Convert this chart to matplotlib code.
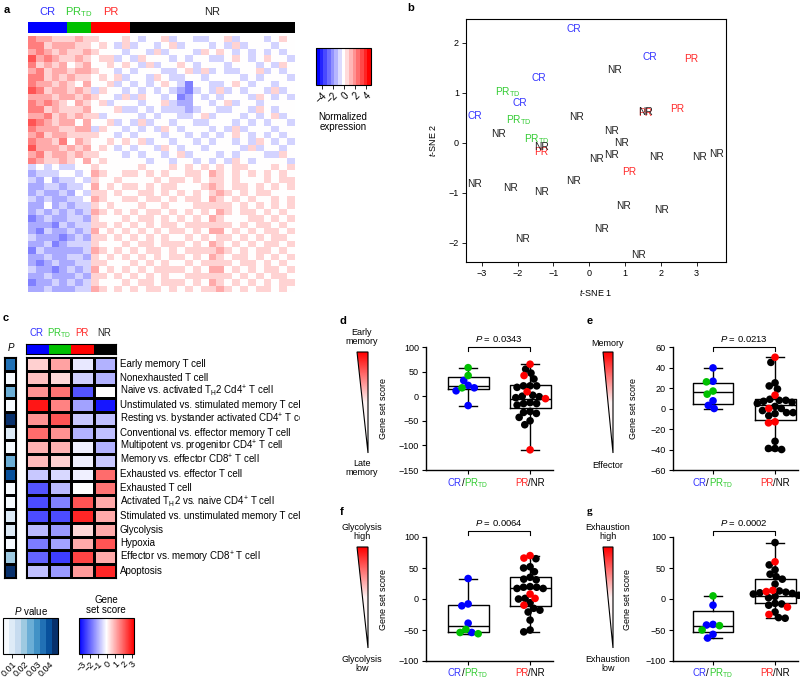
import numpy as np
import matplotlib
matplotlib.use("Agg")
import matplotlib.pyplot as plt
from matplotlib import colors as mcolors
from matplotlib.cm import ScalarMappable
from matplotlib.patches import Polygon
from matplotlib.transforms import Bbox, TransformedBbox

plt.rcParams["font.family"] = ["Liberation Sans", "DejaVu Sans"]
plt.rcParams["mathtext.fontset"] = "custom"
plt.rcParams["mathtext.rm"] = "Liberation Sans"
plt.rcParams["mathtext.it"] = "Liberation Sans:italic"
plt.rcParams["mathtext.bf"] = "Liberation Sans:bold"
plt.rcParams["font.size"] = 6.5
plt.rcParams["axes.linewidth"] = 0.8

W, H = 800, 681
BLUE, GREEN, RED = "#0000ff", "#00c000", "#ff0000"
T_BLUE, T_GREEN, T_RED = "#3333ff", "#33cc33", "#ff2a2a"

# ---------------- data ----------------
groups = ["CR", r"PR$_{\rm TD}$", "PR", "NR"]
group_n = [5, 3, 5, 21]
group_col = [BLUE, GREEN, RED, "black"]
label_col = [T_BLUE, T_GREEN, T_RED, "#222222"]

# panel a: normalized expression, code digit - 4 (rows = gene bands, cols = samples)
expr_rows = [
    "76655 565 54445 434453443344534443454",
    "77566 655 45435 344345344434353444344",
    "67656 556 54443 443534443545434343434",
    "86765 565 45534 354443434433454345443",
    "75656 456 44545 435344543444344434354",
    "67566 566 54434 344433453534334453434",
    "77565 655 45453 443543344344443434443",
    "76656 546 44534 343454314433454344344",
    "87566 565 35443 434343213435343443534",
    "66656 656 54435 354434124343444354343",
    "76765 465 45344 434453224434534434444",
    "77565 556 44453 343433323443344354344",
    "66756 565 53444 434344334534443434534",
    "87656 646 44534 353443443344434343443",
    "76665 566 35443 434354344434353444344",
    "67566 555 54434 344434434343454343434",
    "76657 465 44545 453443443434434354343",
    "86665 656 45434 344354344344443534434",
    "67566 565 54443 434434534443434443354",
    "76556 546 45444 443443443434354344443",
    "34343 344 54444 454445454545455444545",
    "23334 434 65445 545454455465454545454",
    "32423 343 54454 444545545455454445455",
    "22332 334 64545 545455444565455454545",
    "23223 243 55454 455454545456545455444",
    "32322 334 65445 545545455465454544545",
    "22423 233 54544 454454445555545454545",
    "23232 323 65454 545545454546545545454",
    "12322 332 54445 455454545465444554545",
    "22213 233 55454 545455455555545455454",
    "21322 323 64545 454545545466454545545",
    "32221 232 55454 545454454545545454554",
    "22312 333 54445 455455545465454545545",
    "13222 223 65454 545545455556545455454",
    "22322 332 54545 454545545465455454545",
    "21232 233 55444 545454454555545545454",
    "32212 323 64545 454555545466454545545",
    "22322 232 55454 545454455555545454554",
    "12232 323 54445 455455545465454545455",
    "22322 233 65454 545545454556545455454",
]

# panel b: t-SNE coordinates
tsne_cr_x = [-0.44, 1.68, -1.41, -1.93, -3.19]
tsne_cr_y = [2.28, 1.70, 1.29, 0.78, 0.53]
tsne_prtd_x = [-2.28, -1.96, -1.47]
tsne_prtd_y = [1.01, 0.45, 0.06]
tsne_pr_x = [2.86, 2.47, -1.33, 1.12, 1.55]
tsne_pr_y = [1.68, 0.68, -0.19, -0.59, 0.59]
tsne_nr_x = [0.72, -0.35, 1.56, -2.53, -1.33, 0.63, 0.91, 0.63, 0.21, 1.88, 3.07,
             3.56, -0.44, -3.19, -2.21, -1.33, 0.97, 2.02, 0.35, -1.87, 1.38]
tsne_nr_y = [1.45, 0.51, 0.61, 0.17, -0.09, 0.22, -0.01, -0.25, -0.33, -0.29, -0.29,
             -0.23, -0.77, -0.83, -0.91, -0.99, -1.27, -1.35, -1.73, -1.94, -2.24]

# panel c: gene set scores (CR, PR_TD, PR, NR) and P values
gene_sets = [
    "Early memory T cell",
    "Nonexhausted T cell",
    r"Naive vs. activated T$_{\rm H}$2 Cd4$^{+}$ T cell",
    "Unstimulated vs. stimulated memory T cell",
    r"Resting vs. bystander activated CD4$^{+}$ T cell",
    "Conventional vs. effector memory T cell",
    r"Multipotent vs. progenitor CD4$^{+}$ T cell",
    r"Memory vs. effector CD8$^{+}$ T cell",
    "Exhausted vs. effector T cell",
    "Exhausted T cell",
    r"Activated T$_{\rm H}$2 vs. naive CD4$^{+}$ T cell",
    "Stimulated vs. unstimulated memory T cell",
    "Glycolysis",
    "Hypoxia",
    r"Effector vs. memory CD8$^{+}$ T cell",
    "Apoptosis",
]
score_cr = [0.6, 0.8, 1.4, 3.0, 1.4, 1.9, 1.0, 0.9, -0.7, -2.2, -2.3, -2.3, -0.9, -1.7, -2.0, -0.8]
score_prtd = [1.2, 0.5, 1.8, 1.6, 2.2, 1.4, 1.0, 0.6, -0.5, -0.9, -1.6, -2.3, -1.3, -1.2, -2.5, -1.3]
score_pr = [-0.3, -0.6, -2.2, -1.2, -0.7, -1.0, -0.2, -0.2, -0.2, 0.0, 2.2, 2.8, 0.5, 1.1, 2.4, 1.3]
score_nr = [-1.0, -1.0, 0.0, -3.0, -0.8, -0.8, -1.0, -0.7, 1.9, 1.8, 1.1, 1.1, 1.1, 2.2, 1.1, 2.8]
p_values = [0.033, 0.004, 0.025, 0.003, 0.047, 0.012, 0.003, 0.025,
            0.042, 0.003, 0.004, 0.008, 0.008, 0.004, 0.02, 0.047]

# panels d-g: gene set scores per patient; box = (whislo, q1, med, q3, whishi)
d_cr = [32, 22, 17, 11, -19]
d_prtd = [58, 42, 17]
d_pr = [65, 42, 9, -5, -109]
d_nr = [55, 47, 35, 21, 21, 21, 18, 2, 0, -1, -3, -13, -15, -15, -18, -31, -33, -35, -43, -50, -58]
d_box = [(-19, 14, 20, 39, 58), (-109, -23, -5, 22, 65)]

e_cr = [39.6, 26.6, 7.5, 0, 3]
e_prtd = [26, 17, 14]
e_pr = [50, 13, 0, -13, -14]
e_nr = [45, 25, 22, 19, 9, 8, 8, 7, 6, 5, 2, 0, -2, -4, -4, -5, -7, -32, -39, -40, -39]
e_box = [(0, 4.5, 16, 25, 39.6), (-40, -11, 3, 9, 50)]

f_cr = [33, -11, -8, -39, -54]
f_prtd = [-56, -54, -49]
f_pr = [70, 66, 8, 1, -10]
f_nr = [65, 52, 50, 44, 35, 32, 31, 20, 19, 19, 17, 17, 1, 0, -6, -15, -18, -21, -34, -50, -53]
f_box = [(-56, -53, -43, -10, 33), (-53, -11, 17, 36, 70)]

g_cr = [-10, -42, -41, -57, -63]
g_prtd = [5, -43, -50]
g_pr = [60, 14, 12, -13, -25]
g_nr = [91, 55, 47, 40, 36, 32, 24, 13, 10, 8, 6, 4, 2, 9, 11, -7, -8, -10, -21, -30, -31]
g_box = [(-63, -54, -44, -19, 5), (-31, -6, 5, 32, 91)]

# ---------------- helpers ----------------
fig = plt.figure(figsize=(W / 100, H / 100), dpi=100)


def pax(x0, y0, x1, y1, **kw):
    return fig.add_axes([x0 / W, 1 - y1 / H, (x1 - x0) / W, (y1 - y0) / H], **kw)


def ftext(x, y, s, **kw):
    return fig.text(x / W, 1 - y / H, s, **kw)


def seg_text(x, y, parts, size):
    r = fig.canvas.get_renderer()
    items = []
    for s, c in parts:
        t = ftext(0, 0, s, color=c, fontsize=size, va="baseline", ha="left")
        items.append((t, t.get_window_extent(r).width))
    cx = x - sum(w for _, w in items) / 2
    for t, w in items:
        t.set_position((cx / W, 1 - y / H))
        cx += w


def swarm(vals, ppu, d=6.6):
    ys = np.asarray(vals, float) * ppu
    xs = np.zeros(len(ys))
    done = []
    for i in np.argsort(-ys):
        y = ys[i]
        cands = [0.0]
        blocks = []
        for j in done:
            dy = abs(ys[j] - y)
            if dy < d:
                w = np.sqrt(d * d - dy * dy)
                blocks.append((xs[j] - w, xs[j] + w))
                cands += [xs[j] - w, xs[j] + w]
        cands.sort(key=lambda c: (abs(c), c))
        for c in cands:
            if all(not (lo + 1e-6 < c < hi - 1e-6) for lo, hi in blocks):
                xs[i] = c
                break
        done.append(i)
    return xs


# overlay for gradient triangles
ax0 = fig.add_axes([0, 0, 1, 1], zorder=-1)
ax0.axis("off")
grad_cmap = mcolors.LinearSegmentedColormap.from_list("wr", ["white", "#fff4f4", "#ff0000"])


def triangle(x0, x1, ytop, ybot):
    im = ax0.imshow(np.linspace(1, 0, 200)[:, None], cmap=grad_cmap, aspect="auto",
                    extent=(x0, x1, ybot, ytop), origin="upper", vmin=0, vmax=1)
    poly = Polygon([(x0, ytop), (x1, ytop), (x1, ybot)], closed=True,
                   facecolor="none", edgecolor="black", lw=0.8)
    ax0.add_patch(poly)
    im.set_clip_path(poly)


# ---------------- panel a ----------------
ftext(4, 10, "a", fontsize=8, fontweight="bold", va="center")
codes = [r.replace(" ", "").ljust(34, "4")[:34] for r in expr_rows]
expr = np.array([[int(ch) - 4 for ch in r] for r in codes], float)
ncol = sum(group_n)
axh = pax(28, 22, 295, 33)
gidx = np.repeat(np.arange(4), group_n)[None, :]
axh.imshow(gidx, cmap=mcolors.ListedColormap(group_col), aspect="auto", interpolation="nearest")
axh.axis("off")
starts = np.cumsum([0] + group_n[:-1])
for g, s, n, c in zip(groups, starts, group_n, label_col):
    ftext(28 + (s + n / 2) * 267 / ncol, 12, g, color=c, fontsize=8, ha="center", va="center")

axa = pax(28, 36, 295, 292)
axa.imshow(expr, cmap="bwr", vmin=-6, vmax=6, aspect="auto", interpolation="nearest")
axa.axis("off")

cax = pax(316, 48, 371, 85)
cb = fig.colorbar(ScalarMappable(mcolors.Normalize(-5, 5), plt.get_cmap("bwr").resampled(15)),
                  cax=cax, orientation="horizontal")
cb.set_ticks([-4, -2, 0, 2, 4])
cb.outline.set_linewidth(0.8)
cax.tick_params(labelsize=7, length=3, width=0.6, pad=1)
for t in cax.get_xticklabels():
    t.set_rotation(45)
    t.set_ha("right")
    t.set_rotation_mode("anchor")
ftext(343, 122, "Normalized\nexpression", fontsize=7, ha="center", va="center", linespacing=1.1)

# ---------------- panel b ----------------
ftext(407, 8, "b", fontsize=8, fontweight="bold", va="center")
axb = pax(466, 19, 726, 262)
for xs, ys, lab, c in [(tsne_cr_x, tsne_cr_y, "CR", T_BLUE),
                       (tsne_prtd_x, tsne_prtd_y, r"PR$_{\rm TD}$", T_GREEN),
                       (tsne_pr_x, tsne_pr_y, "PR", T_RED),
                       (tsne_nr_x, tsne_nr_y, "NR", "#222222")]:
    for x, y in zip(xs, ys):
        axb.text(x, y, lab, color=c, fontsize=7.3, ha="center", va="center")
axb.set_xlim(-3.44, 3.82)
axb.set_ylim(-2.39, 2.47)
axb.set_xticks([-3, -2, -1, 0, 1, 2, 3])
axb.set_yticks([-2, -1, 0, 1, 2])
axb.tick_params(labelsize=6.5, length=3, width=0.6, pad=2)
ftext(596, 293, r"$\it{t}$-SNE 1", fontsize=6.5, ha="center", va="center")
ftext(432, 140, r"$\it{t}$-SNE 2", fontsize=6.5, ha="center", va="center", rotation=90)

# ---------------- panel c ----------------
ftext(3, 318, "c", fontsize=8, fontweight="bold", va="center")
for i, (g, c) in enumerate(zip(groups, label_col)):
    ftext(37 + i * 22.5, 333, g, color=c, fontsize=7, ha="center", va="center")
ftext(11, 348, "P", fontsize=7, style="italic", ha="center", va="center")
axch = pax(26, 344, 116, 354)
axch.imshow(np.arange(4)[None, :], cmap=mcolors.ListedColormap(group_col), aspect="auto")
axch.set_xticks([])
axch.set_yticks([])

scores = np.array([score_cr, score_prtd, score_pr, score_nr]).T
axc = pax(26, 357, 116, 578)
axc.pcolormesh(scores, cmap="bwr", vmin=-3.3, vmax=3.3, edgecolors="black", linewidth=0.8)
axc.set_ylim(len(gene_sets), 0)
axc.set_xticks([])
axc.set_yticks([])
p_cmap = plt.get_cmap("Blues").resampled(9)
axp = pax(4, 357, 16, 578)
axp.pcolormesh(np.array(p_values)[:, None], cmap=p_cmap, vmin=0.003, vmax=0.047,
               edgecolors="black", linewidth=0.8)
axp.set_ylim(len(p_values), 0)
axp.set_xticks([])
axp.set_yticks([])

clip = TransformedBbox(Bbox([[0, 0], [300 / W, 1]]), fig.transFigure)
row_h = (578 - 357) / len(gene_sets)
for i, name in enumerate(gene_sets):
    t = ftext(120, 357 + (i + 0.5) * row_h, name, fontsize=7, ha="left", va="center")
    t.set_clip_box(clip)
    t.set_clip_on(True)

ftext(31, 611, r"$\it{P}$ value", fontsize=7, ha="center", va="center")
cpx = pax(3, 618, 58, 654)
cbp = fig.colorbar(ScalarMappable(mcolors.Normalize(0.003, 0.047), p_cmap), cax=cpx,
                   orientation="horizontal")
cbp.set_ticks([0.01, 0.02, 0.03, 0.04])
cbp.set_ticklabels(["0.01", "0.02", "0.03", "0.04"])
ftext(106, 605, "Gene\nset score", fontsize=7, ha="center", va="center", linespacing=1.1)
cgx = pax(79, 618, 134, 654)
cbg = fig.colorbar(ScalarMappable(mcolors.Normalize(-3.3, 3.3), plt.get_cmap("bwr")), cax=cgx,
                   orientation="horizontal")
cbg.set_ticks([-3, -2, -1, 0, 1, 2, 3])
for cbx in (cbp, cbg):
    cbx.outline.set_linewidth(0.8)
    cbx.ax.tick_params(labelsize=6.5, length=3, width=0.6, pad=1)
    for t in cbx.ax.get_xticklabels():
        t.set_rotation(45)
        t.set_ha("right")
        t.set_rotation_mode("anchor")

# ---------------- panels d-g ----------------
panels = [
    ("d", (426, 347, 553, 470), (-0.68, 1.37), (-150, 100), [-150, -100, -50, 0, 50, 100],
     d_cr, d_prtd, d_pr, d_nr, d_box, "0.0343", 0, (357, 368, 352, 453),
     ("Early\nmemory", 337), ("Late\nmemory", 468), 362, 383, 486),
    ("e", (673, 347, 798, 470), (-0.645, 1.37), (-60, 60), [-60, -40, -20, 0, 20, 40, 60],
     e_cr, e_prtd, e_pr, e_nr, e_box, "0.0213", 0, (603, 613, 352, 453),
     ("Memory", 343), ("Effector", 465), 608, 633, 486),
    ("f", (426, 537, 553, 661), (-0.68, 1.37), (-100, 100), [-100, -50, 0, 50, 100],
     f_cr, f_prtd, f_pr, f_nr, f_box, "0.0064", 6, (357, 368, 547, 648),
     ("Glycolysis\nhigh", 532), ("Glycolysis\nlow", 664), 362, 383, 676),
    ("g", (673, 537, 798, 661), (-0.645, 1.37), (-100, 100), [-100, -50, 0, 50, 100],
     g_cr, g_prtd, g_pr, g_nr, g_box, "0.0002", 6, (603, 613, 547, 648),
     ("Exhaustion\nhigh", 532), ("Exhaustion\nlow", 664), 608, 628, 676),
]

for (letter, rect, xlim, ylim, yticks, cr, prtd, pr, nr, box, pval, bdy, tri,
     top_txt, bot_txt, tri_tx, ylab_x, xlab_y) in panels:
    x0, y0, x1, y1 = rect
    ax = pax(x0, y0, x1, y1)
    ppu = (y1 - y0) / (ylim[1] - ylim[0])
    pxu = (x1 - x0) / (xlim[1] - xlim[0])
    stats = [dict(whislo=b[0], q1=b[1], med=b[2], q3=b[3], whishi=b[4], fliers=[]) for b in box]
    lp = dict(color="black", lw=1.0)
    ax.bxp(stats, positions=[0, 1], widths=0.66, capwidths=0.3, showfliers=False,
           boxprops=lp, whiskerprops=lp, capprops=lp, medianprops=lp)
    for pos, sets in [(0, [(cr, BLUE), (prtd, GREEN)]), (1, [(nr, "black"), (pr, RED)])]:
        vals = np.concatenate([np.asarray(v, float) for v, _ in sets])
        cols = sum([[c] * len(v) for v, c in sets], [])
        offs = swarm(vals, ppu) / pxu
        ax.scatter(pos + offs, vals, c=cols, s=30, linewidths=0, zorder=3, clip_on=False)
    ax.set_xlim(*xlim)
    ax.set_ylim(*ylim)
    ax.set_yticks(yticks)
    ax.set_xticks([0, 1])
    ax.set_xticklabels(["", ""])
    for s in ("top", "right"):
        ax.spines[s].set_visible(False)
    ax.spines["left"].set_linewidth(1.0)
    ax.spines["bottom"].set_linewidth(1.0)
    ax.tick_params(labelsize=6.5, length=3, width=0.8, pad=2)

    yb = ylim[1] + bdy / ppu
    ax.plot([0, 0, 1, 1], [yb - 3.5 / ppu, yb, yb, yb - 3.5 / ppu], color="black", lw=0.8,
            clip_on=False)
    ax.text(0.5, yb + 3 / ppu, r"$\it{P}$ = " + pval, fontsize=6.8, ha="center", va="bottom")

    ftext(rect[0] - 86, rect[1] - 26 if letter in "de" else rect[1] - 25, letter, fontsize=8,
          fontweight="bold", va="center",
          family="Liberation Serif" if letter == "g" else None)
    triangle(*tri)
    ftext(tri_tx, top_txt[1], top_txt[0], fontsize=6.5, ha="center", va="center", linespacing=1.0)
    ftext(tri_tx, bot_txt[1], bot_txt[0], fontsize=6.5, ha="center", va="center", linespacing=1.0)
    ftext(ylab_x, (y0 + y1) / 2, "Gene set score", fontsize=6.5, ha="center", va="center",
          rotation=90)

    tick_px = [x0 + (p - xlim[0]) * pxu for p in (0, 1)]
    seg_text(tick_px[0], xlab_y, [("CR", T_BLUE), ("/", "black"), (r"PR$_{\rm TD}$", T_GREEN)], 7)
    seg_text(tick_px[1], xlab_y, [("PR", T_RED), ("/NR", "black")], 7)

ax0.set_xlim(0, W)
ax0.set_ylim(H, 0)

fig.savefig("out.png", dpi=100)
